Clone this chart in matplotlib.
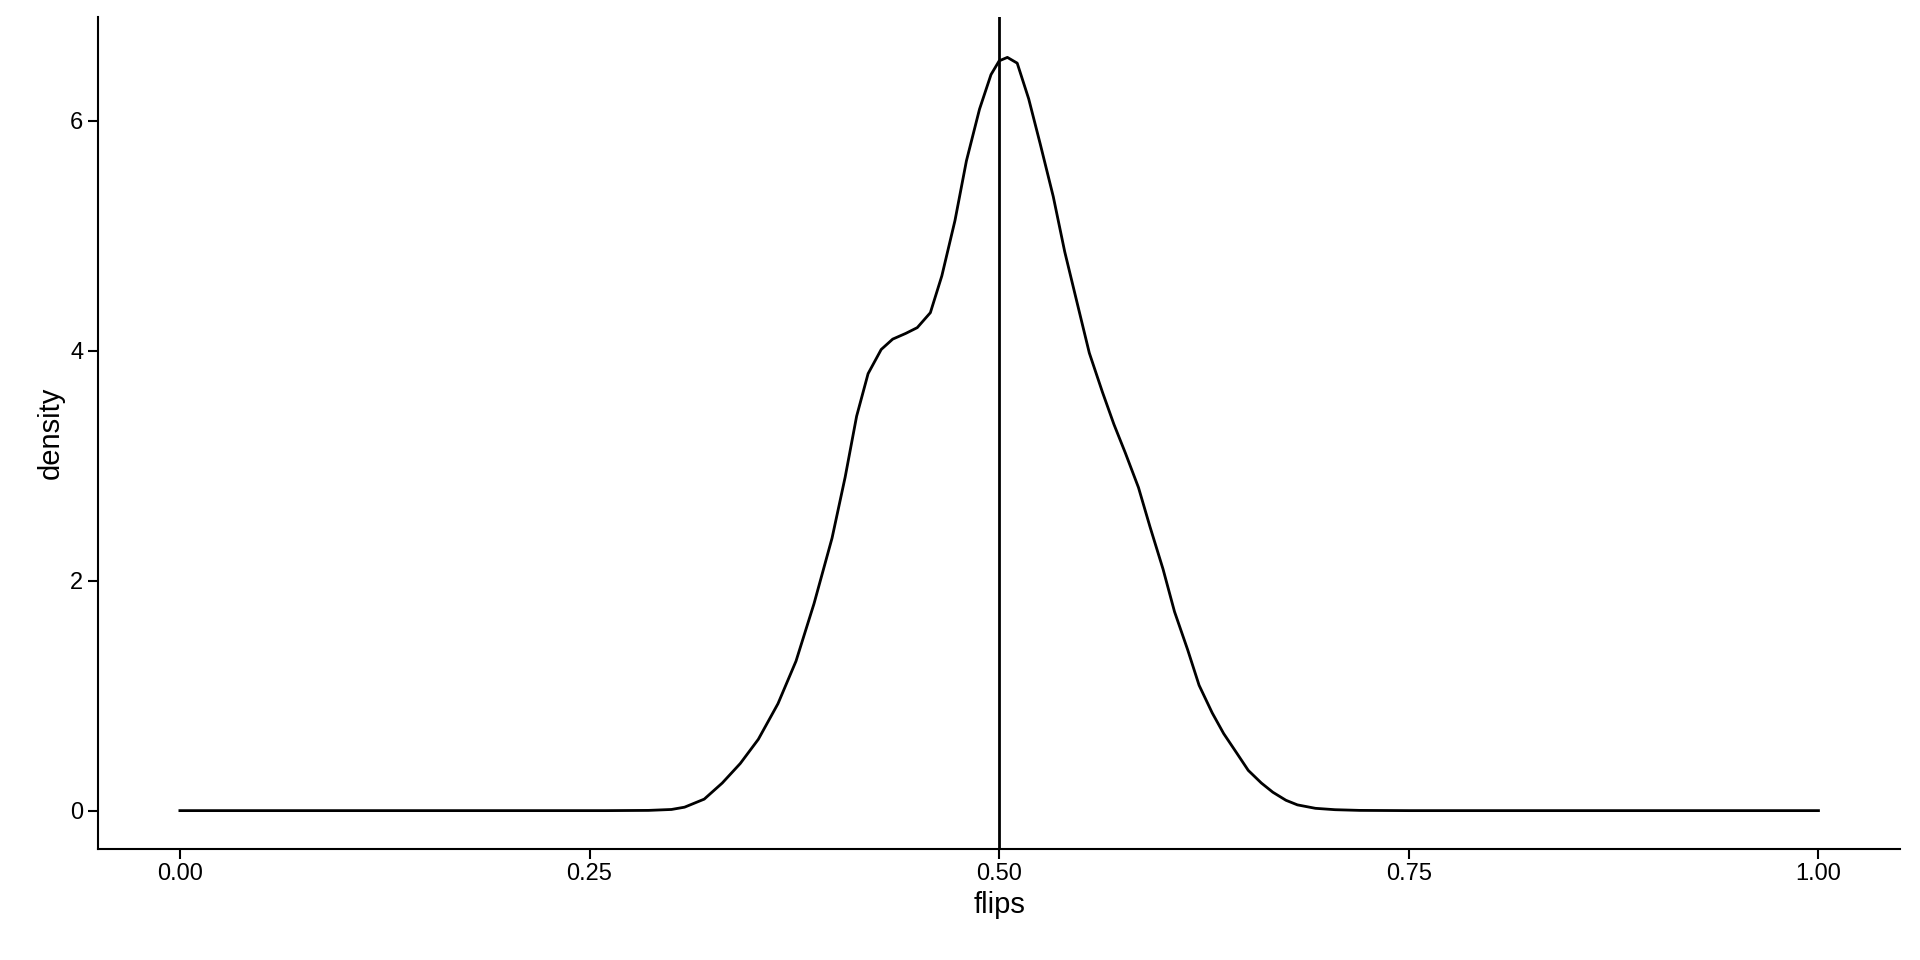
import matplotlib
matplotlib.use("Agg")
import matplotlib.pyplot as plt

plt.rcParams['font.family'] = ['Liberation Sans', 'DejaVu Sans']

flips = [0.0, 0.10, 0.20, 0.26, 0.286, 0.300, 0.308, 0.320, 0.331, 0.342, 0.353, 0.365, 0.376,
         0.387, 0.398, 0.406, 0.413, 0.420, 0.428, 0.435, 0.443, 0.450, 0.458, 0.465, 0.473,
         0.480, 0.488, 0.495, 0.500, 0.505, 0.511, 0.518, 0.525, 0.533, 0.540, 0.548, 0.555,
         0.563, 0.570, 0.577, 0.585, 0.592, 0.600, 0.607, 0.615, 0.622, 0.630, 0.637, 0.645,
         0.652, 0.660, 0.667, 0.675, 0.682, 0.693, 0.705, 0.72, 0.75, 0.85, 1.0]
density = [0.0, 0.0, 0.0, 0.0, 0.002, 0.01, 0.03, 0.10, 0.24, 0.41, 0.62, 0.93, 1.30,
           1.80, 2.37, 2.90, 3.43, 3.80, 4.01, 4.10, 4.15, 4.20, 4.33, 4.65, 5.13,
           5.65, 6.10, 6.40, 6.52, 6.55, 6.50, 6.19, 5.80, 5.34, 4.86, 4.39, 3.98,
           3.64, 3.36, 3.11, 2.81, 2.47, 2.10, 1.73, 1.40, 1.09, 0.85, 0.67, 0.50,
           0.35, 0.24, 0.16, 0.09, 0.05, 0.02, 0.008, 0.002, 0.0, 0.0, 0.0]
vline_x = 0.5

fig = plt.figure(figsize=(19.2, 9.6), dpi=100)
ax = fig.add_axes([80/1568, 1-693/784, (1552-80)/1568, (693-14)/784])
ax.plot(flips, density, color='black', lw=2)
ax.axvline(vline_x, color='black', lw=2)
ax.set_xlim(-0.05, 1.05)
ax.set_ylim(-0.33, 6.9)
ax.set_xticks([0, 0.25, 0.5, 0.75, 1.0])
ax.set_xticklabels(['0.00', '0.25', '0.50', '0.75', '1.00'])
ax.set_yticks([0, 2, 4, 6])
ax.spines['top'].set_visible(False)
ax.spines['right'].set_visible(False)
for s in ['left', 'bottom']:
    ax.spines[s].set_linewidth(1.5)
ax.tick_params(labelsize=17, width=1.5, length=7, colors='black')
ax.set_xlabel('flips', fontsize=21)
ax.set_ylabel('density', fontsize=21)
fig.savefig('out.png', dpi=100)
